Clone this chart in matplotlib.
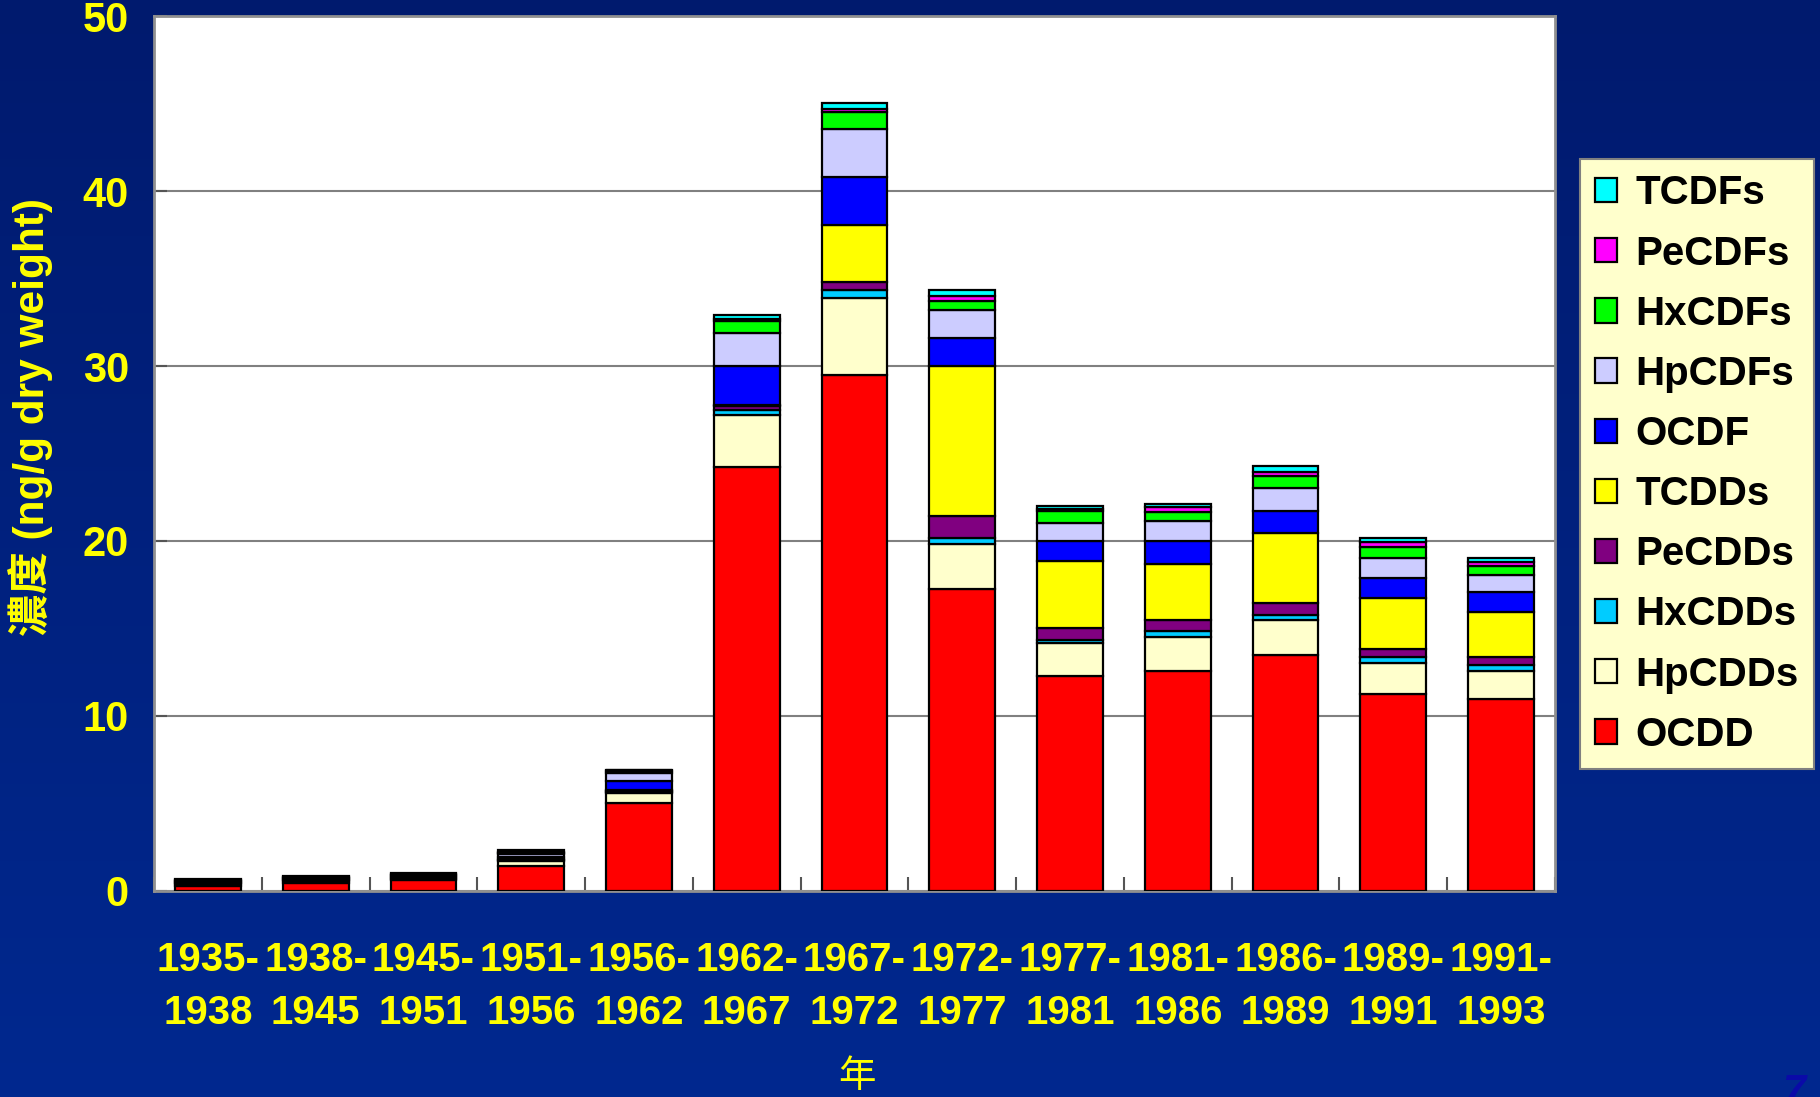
import numpy as np
import matplotlib
matplotlib.use("Agg")
import matplotlib.pyplot as plt
from matplotlib.colors import LinearSegmentedColormap

plt.rcParams['font.family'] = ['Liberation Sans', 'Noto Sans CJK TC', 'DejaVu Sans']

# periods (x tick labels)
periods = ["1935-\n1938", "1938-\n1945", "1945-\n1951", "1951-\n1956", "1956-\n1962",
           "1962-\n1967", "1967-\n1972", "1972-\n1977", "1977-\n1981", "1981-\n1986",
           "1986-\n1989", "1989-\n1991", "1991-\n1993"]

# series, stacked from bottom to top (ng/g dry weight)
ocdd   = [0.30, 0.45, 0.60, 1.41, 5.03, 24.2, 29.51, 17.24, 12.27, 12.55, 13.51, 11.26, 10.98]
hpcdds = [0.10, 0.10, 0.10, 0.29, 0.57, 3.00, 4.38, 2.61, 1.91, 1.95, 1.96, 1.77, 1.57]
hxcdds = [0.03, 0.03, 0.03, 0.05, 0.07, 0.29, 0.48, 0.30, 0.19, 0.34, 0.32, 0.35, 0.39]
pecdds = [0.03, 0.05, 0.08, 0.05, 0.05, 0.20, 0.43, 1.30, 0.66, 0.67, 0.67, 0.47, 0.44]
tcdds  = [0.00, 0.00, 0.02, 0.05, 0.03, 0.10, 3.28, 8.53, 3.81, 3.20, 4.00, 2.90, 2.57]
ocdf   = [0.05, 0.08, 0.05, 0.12, 0.52, 2.20, 2.72, 1.62, 1.14, 1.27, 1.28, 1.14, 1.12]
hpcdfs = [0.05, 0.05, 0.04, 0.12, 0.48, 1.90, 2.75, 1.62, 1.02, 1.15, 1.29, 1.12, 1.01]
hxcdfs = [0.07, 0.04, 0.04, 0.10, 0.10, 0.66, 0.95, 0.52, 0.70, 0.53, 0.67, 0.65, 0.47]
pecdfs = [0.02, 0.02, 0.02, 0.06, 0.04, 0.15, 0.20, 0.28, 0.13, 0.28, 0.23, 0.29, 0.25]
tcdfs  = [0.03, 0.05, 0.02, 0.08, 0.05, 0.20, 0.34, 0.35, 0.15, 0.20, 0.34, 0.23, 0.23]

names = ["OCDD", "HpCDDs", "HxCDDs", "PeCDDs", "TCDDs", "OCDF", "HpCDFs", "HxCDFs", "PeCDFs", "TCDFs"]
series = [ocdd, hpcdds, hxcdds, pecdds, tcdds, ocdf, hpcdfs, hxcdfs, pecdfs, tcdfs]
colors = ["#FF0000", "#FFFFCC", "#00CCFF", "#800080", "#FFFF00",
          "#0000FF", "#CCCCFF", "#00FF00", "#FF00FF", "#00FFFF"]

fig = plt.figure(figsize=(18.2, 10.97), dpi=100)

# blue gradient background
bg = fig.add_axes([0, 0, 1, 1], zorder=-10)
cmap = LinearSegmentedColormap.from_list("bg", ["#001A6E", "#00288F"])
bg.imshow(np.linspace(0, 1, 256).reshape(-1, 1), aspect="auto", cmap=cmap,
          extent=[0, 1, 0, 1], origin="upper")
bg.axis("off")

ax = fig.add_axes([0.0846, 0.1878, 0.7698, 0.7976])
ax.set_facecolor("white")

x = np.arange(len(periods))
bottom = np.zeros(len(periods))
handles = []
for name, vals, c in zip(names, series, colors):
    b = ax.bar(x, vals, 0.61, bottom=bottom, color=c, edgecolor="black",
               linewidth=1.6, label=name, zorder=3)
    handles.append(b)
    bottom += np.array(vals)

ax.set_xlim(-0.5, len(periods) - 0.5)
ax.set_ylim(0, 50)
ax.set_yticks([0, 10, 20, 30, 40, 50])
ax.yaxis.grid(True, color="#808080", linewidth=1.5, zorder=0)

ax.set_xticks(x)
ax.set_xticklabels(periods, fontsize=29, fontweight="bold", color="#FFFF00",
                   linespacing=1.5)
ax.set_xticks(np.arange(len(periods) + 1) - 0.5, minor=True)
ax.tick_params(axis="x", which="major", length=0, pad=36)
ax.tick_params(axis="x", which="minor", direction="in", length=10, width=1.5,
               color="#555555")
ax.tick_params(axis="y", direction="in", length=9, width=1.5, color="#555555",
               labelsize=30, labelcolor="#FFFF00", pad=18)
for lab in ax.get_yticklabels():
    lab.set_fontweight("bold")

for s in ax.spines.values():
    s.set_color("#909090")
    s.set_linewidth(2)

ax.set_ylabel("濃度 (ng/g dry weight)", fontsize=30.5, fontweight="bold",
              color="#FFFF00")
ax.yaxis.set_label_coords(-0.072, 0.542)
fig.text(857 / 1820, 1 - 1077 / 1097, "年", fontsize=27, color="#FFFF00",
         ha="center", va="center", family=["Noto Sans CJK TC"])

leg = ax.legend(handles[::-1], names[::-1], loc="upper left",
                bbox_to_anchor=(0.868, 0.855), bbox_transform=fig.transFigure,
                borderaxespad=0, fancybox=False, framealpha=1,
                facecolor="#FFFFCC", edgecolor="#808080",
                prop={"size": 29, "weight": "bold"},
                handlelength=0.55, handleheight=0.55, handletextpad=0.45,
                labelspacing=0.55, borderpad=0.38)
leg.get_frame().set_linewidth(1.5)

# slide number, cut off at the corner like the original
fig.text(0.979, -0.006, "7", fontsize=30, fontweight="bold", style="italic",
         color="#0A0AA8", ha="left", va="baseline")

fig.savefig("out.png", dpi=100)
